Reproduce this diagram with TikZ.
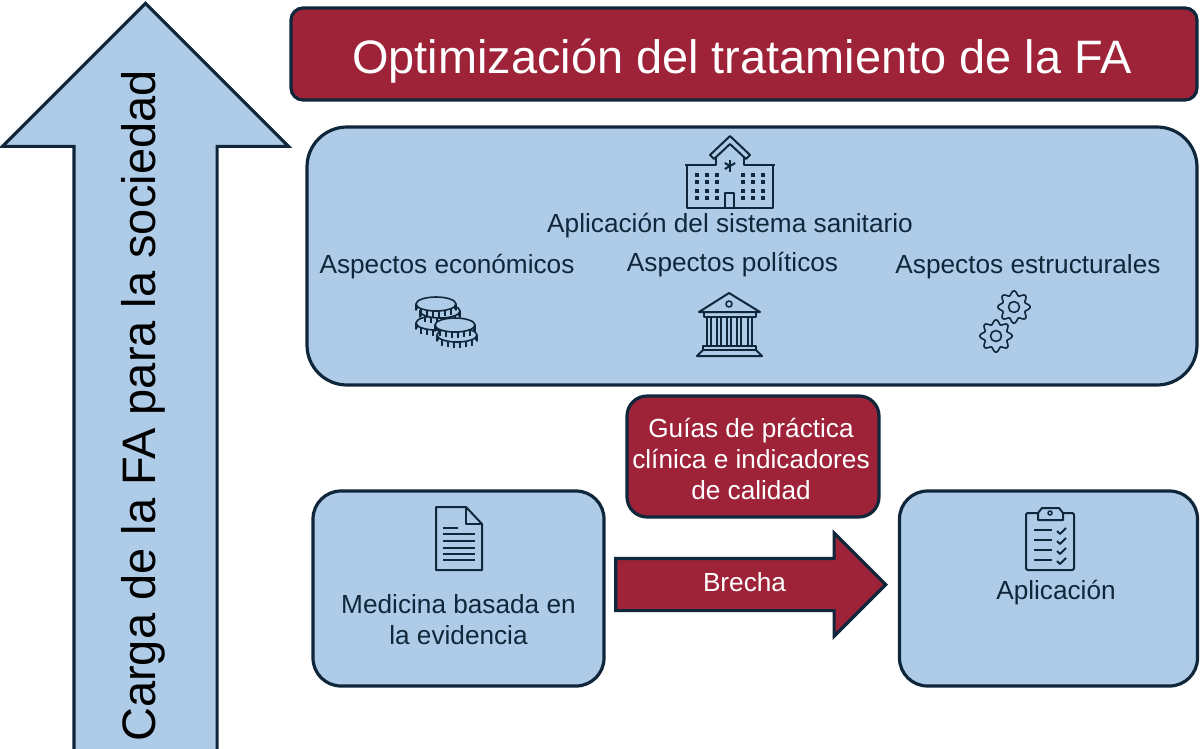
\documentclass[tikz,border=0pt]{standalone}
\usepackage{fontspec}
\setmainfont{Liberation Sans}
\usetikzlibrary{shapes.arrows}

\definecolor{bluebox}{HTML}{AECBE8}
\definecolor{redbox}{HTML}{9E2339}
\definecolor{darkline}{HTML}{10263A}

\tikzset{
    panel/.style={draw=darkline, line width=3.2pt, fill=bluebox, align=center, inner sep=0pt},
    redpanel/.style={panel, fill=redbox, text=white},
    lbl/.style={text=darkline, align=center, inner sep=0pt, font=\fontsize{26.2}{31}\selectfont},
    ico/.style={draw=darkline, line width=1.6pt, line join=round},
    thick ico/.style={ico, line width=2pt},
    coin/.pic={
        \path[ico, fill=bluebox] (-20,0) -- (-20,6) arc[start angle=180, end angle=360, x radius=20, y radius=7] -- (20,0) -- cycle;
        \foreach \tx in {-15,-9,-3,3,9,15}
            \draw[ico, line width=1.4pt] (\tx,{7*sqrt(1-(\tx/20)^2)}) -- ++(0,6);
        \path[ico, fill=bluebox] (0,0) ellipse[x radius=20, y radius=7];
    },
    hospital/.pic={
        \draw[thick ico] (-20,-17) -- (0,-36) -- (20,-17) -- (16,-13) -- (0,-28) -- (-16,-13) -- cycle;
        \draw[thick ico] (-14,-14) -- (-14,-7) -- (-45,-7) (-43,-7) -- (-43,36) -- (43,36) -- (43,-7) (45,-7) -- (14,-7) -- (14,-14);
        \draw[thick ico] (-5,36) -- (-5,21) -- (4,21) -- (4,36);
        \foreach \ang in {90,150,...,330}
            \draw[thick ico] (0,-6) -- ++(\ang:6);
        \foreach \colx in {-33,-23,-13,13,23,33}
            \foreach \rowy in {3,10,19,26}
                \fill[darkline] (\colx-2.4,\rowy-2.4) rectangle (\colx+2.4,\rowy+2.4);
    },
    temple/.pic={
        \draw[thick ico] (-30,-12) -- (0,-31) -- (31,-12) -- cycle;
        \draw[ico] (0,-20) circle[radius=3];
        \draw[thick ico] (-25,-12) -- (-25,-7) -- (27,-7) -- (27,-12);
        \foreach \colx in {-20,-10,0,10,21}
            \draw[ico] (\colx-2,-7) -- (\colx-2,22) (\colx+2,-7) -- (\colx+2,22);
        \draw[thick ico] (-26,22) -- (27,22) -- (27,26) -- (-26,26) -- cycle;
        \draw[thick ico] (-26,26) -- (-32,32) -- (33,32) -- (27,26);
    },
    gear/.pic={
        \draw[ico] plot[domain=0:360, samples=73, smooth] ({(14+2.2*cos(8*\x))*cos(\x)},{(14+2.2*cos(8*\x))*sin(\x)}) -- cycle;
        \draw[ico] (0,0) circle[radius=5.5];
    },
    docsheet/.pic={
        \draw[thick ico] (-23,-32) -- (7,-32) -- (23,-15) -- (23,31) -- (-23,31) -- cycle;
        \draw[ico] (7,-32) -- (7,-15) -- (23,-15);
        \draw[ico] (-16,-11) -- (-1,-11);
        \foreach \rowy in {-5,2,9,15,21}
            \draw[ico] (-16,\rowy) -- (16,\rowy);
    },
    checklist/.pic={
        \draw[thick ico, rounded corners=2pt] (-24,-26) rectangle (24,31);
        \draw[thick ico, fill=bluebox] (-12,-19) -- (-12,-26) -- (-8,-31) -- (9,-31) -- (13,-26) -- (13,-19) -- cycle;
        \draw[ico] (0,-26) circle[radius=2];
        \foreach \rowy in {-9,1,11,21} {
            \draw[ico] (-16,\rowy) -- (2,\rowy);
            \draw[thick ico] (7,\rowy+1) -- (10,\rowy+4) -- (16,\rowy-2);
        }
    }
}

\begin{document}
\begin{tikzpicture}[x=1pt, y=-1pt]
\useasboundingbox (0,0) rectangle (1200,748);

% big arrow on the left
\node[panel, single arrow, rotate=90, anchor=tip, minimum height=752pt, minimum width=283pt, inner ysep=70pt,
    single arrow head extend=71.5pt, single arrow tip angle=90] (burden) at (145.5,1) {};
\node[rotate=90, inner sep=0pt, font=\fontsize{47}{56}\selectfont] (burdenlbl) at (143,406) {Carga de la FA para la sociedad};

% boxes
\node[redpanel, rounded corners=12pt, minimum width=906pt, minimum height=92pt] (title) at (744,54) {};
\node[inner sep=0pt, text=white, font=\fontsize{46.9}{55}\selectfont] (titlelbl) at (742,61) {Optimización del tratamiento de la FA};
\node[panel, rounded corners=40pt, minimum width=890pt, minimum height=258pt] (system) at (752,256) {};
\node[redpanel, rounded corners=20pt, minimum width=252pt, minimum height=121pt] (guides) at (753,456.5) {};
\node[panel, rounded corners=28pt, minimum width=291pt, minimum height=195pt] (evidence) at (458.5,588.5) {};
\node[panel, rounded corners=28pt, minimum width=298pt, minimum height=195pt] (practice) at (1048.5,588.5) {};

% gap arrow
\node[redpanel, single arrow, anchor=tip, minimum height=270pt, minimum width=100pt, inner ysep=24.5pt,
    single arrow head extend=25.5pt, single arrow tip angle=90] (gap) at (888,584.5) {};

% labels
\node[lbl] (systemlbl) at (730,226) {Aplicación del sistema sanitario};
\node[lbl] (econ) at (447,266.5) {Aspectos económicos};
\node[lbl] (polit) at (732.5,264.5) {Aspectos políticos};
\node[lbl] (struct) at (1028,266.5) {Aspectos estructurales};
\node[lbl, text=white] (guideslbl) at (751,459) {Guías de práctica\\clínica e indicadores\\de calidad};
\node[lbl] (evidencelbl) at (458.5,620) {Medicina basada en\\la evidencia};
\node[lbl, text=white] (gaplbl) at (744.5,582.5) {Brecha};
\node[lbl] (practicelbl) at (1056,592.5) {Aplicación};

% icons
\pic at (436,323) {coin};
\pic at (440,311) {coin};
\pic at (436,304) {coin};
\pic at (457,335) {coin};
\pic at (455,325) {coin};
\pic at (730,172) {hospital};
\pic at (729,324) {temple};
\pic at (1014,307) {gear};
\pic at (996,336) {gear};
\pic at (459,539) {docsheet};
\pic at (1050,539) {checklist};
\end{tikzpicture}
\end{document}
